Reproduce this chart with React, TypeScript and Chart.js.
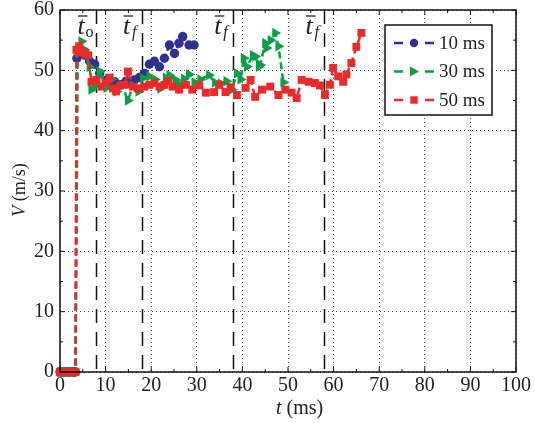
import React, { useEffect, useRef } from "react";
import { Chart, registerables } from "chart.js";

Chart.register(...registerables);

// ---- data ----
const seriesNames = ["10 ms", "30 ms", "50 ms"];

const blueT = [0, 0.5, 1, 1.5, 2, 2.5, 3, 3.4, 3.7, 4.5, 5.5, 6.5, 7.6, 8.7, 10.2, 11.1, 12, 13.4, 14.5, 15.5, 16.3, 17.4, 18.5, 19.6, 20.7, 21.8, 22.9, 24, 25.1, 26.1, 26.9, 28.3, 29.4];
const blueV = [0, 0, 0, 0, 0, 0, 0, 0, 52, 53, 52.5, 51.5, 51, 49.5, 48.4, 47.8, 48.1, 47.6, 48.2, 47.8, 48.4, 48.8, 49.5, 51, 51.5, 50.6, 52, 54.2, 52.8, 54.5, 55.6, 54.2, 54.2];

const greenT = [0, 0.5, 1, 1.5, 2, 2.5, 3, 3.4, 3.9, 4.7, 5.4, 6.5, 6.9, 7.6, 8.7, 10.2, 11.3, 12.4, 13.6, 14.9, 16, 17.2, 18.2, 19.6, 20.8, 22, 23.2, 24, 25.4, 26.1, 27.2, 28.3, 29.5, 30.8, 32.7, 34, 35.3, 36.5, 37.7, 38.8, 39.6, 40.3, 41, 42.3, 42.8, 43.6, 43.9, 45, 45.3, 46.2, 47.2, 47.9, 49];
const greenV = [0, 0, 0, 0, 0, 0, 0, 0, 53, 54.8, 53.4, 50.6, 46.8, 47.3, 49.8, 47.1, 48.5, 46.5, 47.5, 45, 47.5, 46.5, 48.7, 49, 48.5, 47, 48.8, 49.2, 48.4, 47.6, 48.6, 49.3, 48, 48.5, 49.2, 48, 47.8, 48.2, 46.8, 49.5, 48.5, 52, 50.6, 52.5, 52.3, 50.6, 50.9, 54.5, 53.7, 55, 56.2, 54, 48];

const redT = [0, 0.5, 1, 1.5, 2, 2.5, 3, 3.4, 3.6, 4.2, 4.8, 5.5, 6.2, 6.9, 8, 9.1, 10, 10.9, 11.6, 12.3, 13.2, 14.2, 14.9, 16, 17, 18.5, 19.6, 20.7, 21.8, 22.9, 23.8, 24.7, 26.1, 27.6, 29, 30.5, 32, 33.8, 34.9, 36.3, 37.4, 38.8, 40.7, 41.8, 42.8, 44.3, 46.1, 47.9, 49.4, 50.8, 51.9, 53, 54.5, 55.9, 57, 58.1, 59.2, 59.9, 61, 62.1, 62.8, 63.9, 65, 66.1];
const redV = [0, 0, 0, 0, 0, 0, 0, 0, 53.4, 54, 53, 52.8, 52.5, 48.1, 48.4, 47.3, 48, 48.8, 47, 46.5, 47.5, 47.6, 49.8, 47.3, 47, 47.3, 47.6, 47.9, 47.3, 47.6, 48.2, 47.3, 46.8, 47.6, 46.8, 47.5, 46.3, 46.4, 47.6, 46.4, 47.2, 45.9, 47.1, 48.4, 45.6, 46.8, 47.3, 45.9, 46.8, 46.3, 45.4, 48.4, 48.1, 47.9, 47.5, 45.9, 47.6, 50.4, 49, 48.1, 49.3, 51.2, 53.9, 56.2];

const xTicks = [0, 10, 20, 30, 40, 50, 60, 70, 80, 90, 100];
const yTicks = [0, 10, 20, 30, 40, 50, 60];
const vlineTimes = [8, 18, 38, 58];
const vlineSubs = ["o", "f", "f", "f"];

const BLUE = "#2E3192";
const GREEN = "#0A9F47";
const RED = "#EC2A2A";
const SERIF = '"Liberation Serif", "Times New Roman", Times, serif';

function pts(t: number[], v: number[]) {
  return t.map((x, i) => ({ x, y: v[i] }));
}

const overlay = {
  id: "overlay",
  beforeDatasetsDraw(chart: any) {
    const { ctx, chartArea: a, scales } = chart;
    const xs = scales.x;
    ctx.save();
    ctx.strokeStyle = "#111";
    ctx.lineWidth = 1.5;
    ctx.setLineDash([14, 9]);
    vlineTimes.forEach((t) => {
      const px = Math.round(xs.getPixelForValue(t)) + 0.5;
      ctx.beginPath();
      ctx.moveTo(px, a.top);
      ctx.lineTo(px, a.bottom);
      ctx.stroke();
    });
    ctx.restore();
  },
  afterDatasetsDraw(chart: any) {
    const { ctx, chartArea: a, scales } = chart;
    const xs = scales.x;
    const ys = scales.y;
    ctx.save();
    ctx.setLineDash([]);
    ctx.strokeStyle = "#111";
    ctx.lineWidth = 1.5;
    ctx.strokeRect(a.left, a.top, a.right - a.left, a.bottom - a.top);
    ctx.lineWidth = 1;
    for (let t = 0; t <= 100; t += 5) {
      const px = xs.getPixelForValue(t);
      const len = t % 10 === 0 ? 5 : 3;
      ctx.beginPath();
      ctx.moveTo(px, a.bottom);
      ctx.lineTo(px, a.bottom - len);
      ctx.moveTo(px, a.top);
      ctx.lineTo(px, a.top + len);
      ctx.stroke();
    }
    for (let v = 0; v <= 60; v += 5) {
      const py = ys.getPixelForValue(v);
      const len = v % 10 === 0 ? 5 : 3;
      ctx.beginPath();
      ctx.moveTo(a.left, py);
      ctx.lineTo(a.left + len, py);
      ctx.moveTo(a.right, py);
      ctx.lineTo(a.right - len, py);
      ctx.stroke();
    }
    ctx.fillStyle = "#222";
    ctx.textBaseline = "alphabetic";
    ctx.textAlign = "left";
    vlineTimes.forEach((t, i) => {
      const px = xs.getPixelForValue(t) - 19;
      ctx.font = `italic 26px ${SERIF}`;
      ctx.fillText("t", px, a.top + 24);
      ctx.beginPath();
      ctx.lineWidth = 1.2;
      ctx.moveTo(px + 0.5, a.top + 6);
      ctx.lineTo(px + 10, a.top + 6);
      ctx.stroke();
      if (vlineSubs[i] === "o") {
        ctx.font = `16px ${SERIF}`;
        ctx.fillText("o", px + 8, a.top + 27);
      } else {
        ctx.font = `italic 16px ${SERIF}`;
        ctx.fillText("f", px + 9, a.top + 27);
      }
    });
    const lx = a.right - 131;
    const ly = a.top + 15;
    const lw = 107;
    const lh = 90;
    ctx.fillStyle = "#fff";
    ctx.fillRect(lx, ly, lw, lh);
    ctx.strokeStyle = "#111";
    ctx.lineWidth = 1.5;
    ctx.strokeRect(lx, ly, lw, lh);
    const colors = [BLUE, GREEN, RED];
    const styles = ["circle", "triangle", "rect"];
    seriesNames.forEach((name, i) => {
      const cy = ly + 18 + i * 28.5;
      ctx.strokeStyle = colors[i];
      ctx.fillStyle = colors[i];
      ctx.lineWidth = 2.5;
      ctx.setLineDash([]);
      ctx.beginPath();
      ctx.moveTo(lx + 9, cy);
      ctx.lineTo(lx + 18, cy);
      ctx.moveTo(lx + 40, cy);
      ctx.lineTo(lx + 49, cy);
      ctx.stroke();
      const mx = lx + 29;
      ctx.beginPath();
      if (styles[i] === "circle") {
        ctx.arc(mx, cy, 4.2, 0, Math.PI * 2);
      } else if (styles[i] === "triangle") {
        ctx.moveTo(mx - 4, cy - 5);
        ctx.lineTo(mx + 5, cy);
        ctx.lineTo(mx - 4, cy + 5);
        ctx.closePath();
      } else {
        ctx.rect(mx - 3.7, cy - 3.7, 7.4, 7.4);
      }
      ctx.fill();
      ctx.fillStyle = "#222";
      ctx.font = `19px ${SERIF}`;
      ctx.textBaseline = "middle";
      ctx.fillText(name, lx + 54, cy + 1);
    });
    ctx.fillStyle = "#222";
    ctx.textBaseline = "middle";
    ctx.font = `italic 20px ${SERIF}`;
    const tx = (a.left + a.right) / 2 - 12;
    const ty = a.bottom + 37;
    ctx.textAlign = "left";
    ctx.fillText("t", tx, ty);
    const tw = ctx.measureText("t").width;
    ctx.font = `20px ${SERIF}`;
    ctx.fillText(" (ms)", tx + tw, ty);
    ctx.save();
    ctx.translate(20, (a.top + a.bottom) / 2 - 1);
    ctx.rotate(-Math.PI / 2);
    ctx.font = `italic 18px ${SERIF}`;
    const full1 = ctx.measureText("V").width;
    ctx.font = `18px ${SERIF}`;
    const full2 = ctx.measureText(" (m/s)").width;
    const start = -(full1 + full2) / 2;
    ctx.font = `italic 18px ${SERIF}`;
    ctx.fillText("V", start, 0);
    ctx.font = `18px ${SERIF}`;
    ctx.fillText(" (m/s)", start + full1, 0);
    ctx.restore();
    ctx.restore();
  },
};

export default function App() {
  const ref = useRef<HTMLCanvasElement>(null);
  useEffect(() => {
    document.body.style.margin = "0";
    const canvas = ref.current!;
    const mk = (label: string, t: number[], v: number[], color: string, style: string, radius: number, order: number, rotation = 0) => ({
      label,
      data: pts(t, v),
      showLine: true,
      borderColor: color,
      backgroundColor: color,
      borderWidth: 2.5,
      borderDash: [7, 4],
      pointStyle: style,
      pointRadius: radius,
      pointRotation: rotation,
      pointBorderWidth: 0,
      pointBackgroundColor: color,
      clip: 8,
      order,
    });
    const chart = new Chart(canvas, {
      type: "scatter",
      data: {
        datasets: [
          mk(seriesNames[2], redT, redV, RED, "rect", 5.6, 0),
          mk(seriesNames[1], greenT, greenV, GREEN, "triangle", 6, 1, 90),
          mk(seriesNames[0], blueT, blueV, BLUE, "circle", 4.7, 2),
        ] as any,
      },
      options: {
        responsive: false,
        animation: false,
        devicePixelRatio: 1,
        layout: { padding: { left: 0, right: 16, top: 10, bottom: 0 } },
        plugins: { legend: { display: false }, tooltip: { enabled: false } },
        scales: {
          x: {
            type: "linear",
            min: 0,
            max: 100,
            afterBuildTicks: (s: any) => {
              s.ticks = xTicks.map((value) => ({ value }));
            },
            afterFit: (s: any) => {
              s.height = 51;
            },
            ticks: {
              color: "#222",
              padding: 4,
              font: { family: SERIF, size: 20, lineHeight: 1 },
              maxRotation: 0,
            },
            grid: { color: "#555", lineWidth: 1, drawTicks: false },
            border: { display: false, dash: [1, 3] },
          },
          y: {
            type: "linear",
            min: 0,
            max: 60,
            afterBuildTicks: (s: any) => {
              s.ticks = yTicks.map((value) => ({ value }));
            },
            afterFit: (s: any) => {
              s.width = 60;
              s.paddingTop = 0;
              s.paddingBottom = 0;
            },
            ticks: {
              color: "#222",
              padding: 6,
              font: { family: SERIF, size: 20, lineHeight: 0.5 },
            },
            grid: { color: "#555", lineWidth: 1, drawTicks: false },
            border: { display: false, dash: [1, 3] },
          },
        },
      },
      plugins: [overlay],
    } as any);
    return () => {
      chart.destroy();
    };
  }, []);
  return <canvas ref={ref} width={535} height={423} style={{ display: "block", width: 535, height: 423 }} />;
}
